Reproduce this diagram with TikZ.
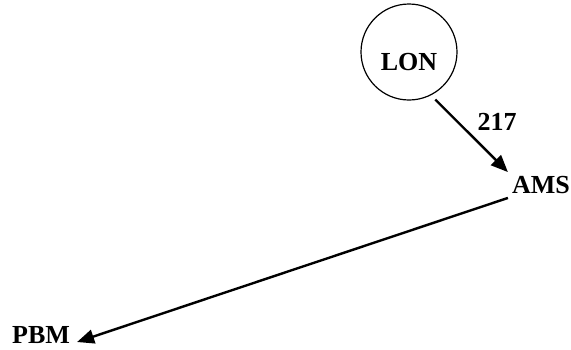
\documentclass[tikz,border=0pt]{standalone}
\usepackage{fontspec}
\setmainfont{Liberation Serif}
\usetikzlibrary{arrows.meta}
\begin{document}
\begin{tikzpicture}[x=1bp,y=-1bp,
  lbl/.style={font=\fontsize{26bp}{30bp}\selectfont\bfseries, inner sep=4bp},
  city/.style={circle, draw, line width=1.2bp, minimum size=96bp, inner sep=0pt,
               text height=36bp, text depth=0bp, font=\fontsize{26bp}{30bp}\selectfont\bfseries},
  arr/.style={line width=2.4bp, -{Triangle[length=17bp,width=14bp]}}]
\useasboundingbox (0,0) rectangle (571,349);
\node[city] (lon) at (409,52) {LON};
\node[lbl] (ams) at (541,185) {AMS};
\node[lbl, inner sep=1bp] (pbm) at (41,335) {PBM};
\node[lbl] (wl) at (497,122) {217};
\draw[arr, shorten <=6bp] (lon.-63) -- (ams.north west);
\draw[arr] (ams.south west) -- ([shift={(6bp,-7bp)}]pbm.east);
\end{tikzpicture}
\end{document}
